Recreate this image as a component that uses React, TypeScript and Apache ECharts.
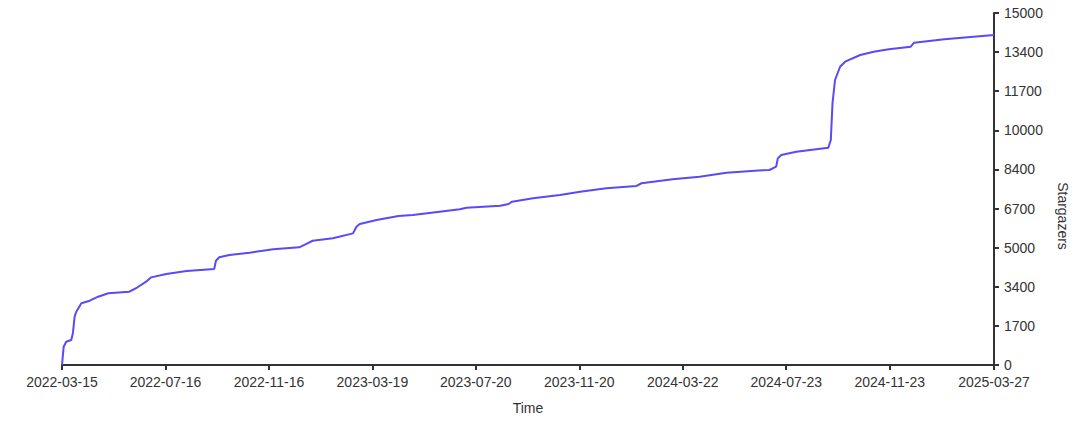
import React, { useEffect, useRef } from "react";
import * as echarts from "echarts";

const starDates: string[] = [
  "2022-03-15", "2022-03-17", "2022-03-20", "2022-03-26", "2022-03-28", "2022-03-30",
  "2022-04-01", "2022-04-07", "2022-04-17", "2022-04-27", "2022-05-09", "2022-06-03",
  "2022-06-11", "2022-06-23", "2022-06-29", "2022-07-17", "2022-08-10", "2022-09-12",
  "2022-09-14", "2022-09-18", "2022-09-30", "2022-10-24", "2022-11-21", "2022-12-22",
  "2022-12-30", "2023-01-07", "2023-01-31", "2023-02-24", "2023-02-28", "2023-03-04",
  "2023-03-24", "2023-04-19", "2023-05-06", "2023-06-07", "2023-07-01", "2023-07-09",
  "2023-08-18", "2023-08-28", "2023-09-01", "2023-09-26", "2023-10-28", "2023-11-21",
  "2023-12-22", "2024-01-27", "2024-02-02", "2024-03-10", "2024-04-11", "2024-05-13",
  "2024-06-20", "2024-07-03", "2024-07-11", "2024-07-13", "2024-07-17", "2024-08-04",
  "2024-09-11", "2024-09-14", "2024-09-16", "2024-09-19", "2024-09-25", "2024-10-01",
  "2024-10-19", "2024-11-04", "2024-11-22", "2024-12-18", "2024-12-22", "2025-01-27",
  "2025-03-27",
];

const starCounts: number[] = [
  0, 780, 990, 1065, 1365, 2060,
  2270, 2630, 2740, 2910, 3055, 3125,
  3270, 3550, 3735, 3880, 4005, 4095,
  4440, 4590, 4690, 4785, 4930, 5015,
  5155, 5295, 5400, 5610, 5890, 6010,
  6180, 6350, 6390, 6535, 6635, 6705,
  6790, 6860, 6960, 7105, 7245, 7385,
  7530, 7630, 7745, 7915, 8025, 8195,
  8290, 8310, 8450, 8805, 8950, 9090,
  9260, 9590, 11150, 12145, 12710, 12925,
  13210, 13350, 13455, 13565, 13735, 13880,
  14065,
];

const xTickLabels: string[] = [
  "2022-03-15", "2022-07-16", "2022-11-16", "2023-03-19", "2023-07-20",
  "2023-11-20", "2024-03-22", "2024-07-23", "2024-11-23", "2025-03-27",
];

const yTickLabels: string[] = [
  "0", "1700", "3400", "5000", "6700", "8400", "10000", "11700", "13400", "15000",
];

const yMax = 15000;

function toTs(s: string): number {
  const [y, m, d] = s.split("-").map(Number);
  return Date.UTC(y, m - 1, d);
}

export default function App() {
  const ref = useRef<HTMLDivElement>(null);

  useEffect(() => {
    if (!ref.current) return;
    const chart = echarts.init(ref.current, undefined, { renderer: "svg" });
    const xTicks = xTickLabels.map(toTs);
    const labelByTs: Record<number, string> = {};
    xTicks.forEach((t, i) => (labelByTs[t] = xTickLabels[i]));
    const yStep = yMax / (yTickLabels.length - 1);
    const font = "'Liberation Sans', Arial, Helvetica, sans-serif";
    const axisColor = "#333333";

    chart.setOption({
      animation: false,
      backgroundColor: "#ffffff",
      grid: { left: 62, right: 86, top: 13, bottom: 58, containLabel: false },
      xAxis: {
        type: "value",
        min: xTicks[0],
        max: xTicks[xTicks.length - 1],
        name: "Time",
        nameLocation: "middle",
        nameGap: 36,
        nameTextStyle: { color: axisColor, fontSize: 14, fontFamily: font },
        axisLine: { show: true, lineStyle: { color: axisColor, width: 2 } },
        axisTick: {
          show: true,
          length: 5,
          customValues: xTicks,
          lineStyle: { color: axisColor, width: 2 },
        },
        axisLabel: {
          customValues: xTicks,
          formatter: (v: number) => labelByTs[v] ?? "",
          color: axisColor,
          fontSize: 14,
          fontFamily: font,
          margin: 10,
        },
        splitLine: { show: false },
      },
      yAxis: {
        type: "value",
        position: "right",
        min: 0,
        max: yMax,
        interval: yStep,
        name: "Stargazers",
        nameLocation: "middle",
        nameRotate: -90,
        nameGap: 62,
        nameTextStyle: {
          color: axisColor,
          fontSize: 14,
          fontFamily: font,
          padding: [0, 0, 0, 54],
        },
        axisLine: { show: true, lineStyle: { color: axisColor, width: 2 } },
        axisTick: { show: true, length: 5, lineStyle: { color: axisColor, width: 2 } },
        axisLabel: {
          formatter: (v: number) => yTickLabels[Math.round(v / yStep)] ?? "",
          color: axisColor,
          fontSize: 14,
          fontFamily: font,
          margin: 10,
        },
        splitLine: { show: false },
      },
      series: [
        {
          type: "line",
          data: starDates.map((d, i) => [toTs(d), starCounts[i]]),
          showSymbol: false,
          symbol: "none",
          lineStyle: { color: "#574bf6", width: 2 },
          itemStyle: { color: "#574bf6" },
        },
      ],
    });

    return () => chart.dispose();
  }, []);

  return (
    <div
      ref={ref}
      style={{ position: "fixed", left: 0, top: 0, width: 1080, height: 423 }}
    />
  );
}
